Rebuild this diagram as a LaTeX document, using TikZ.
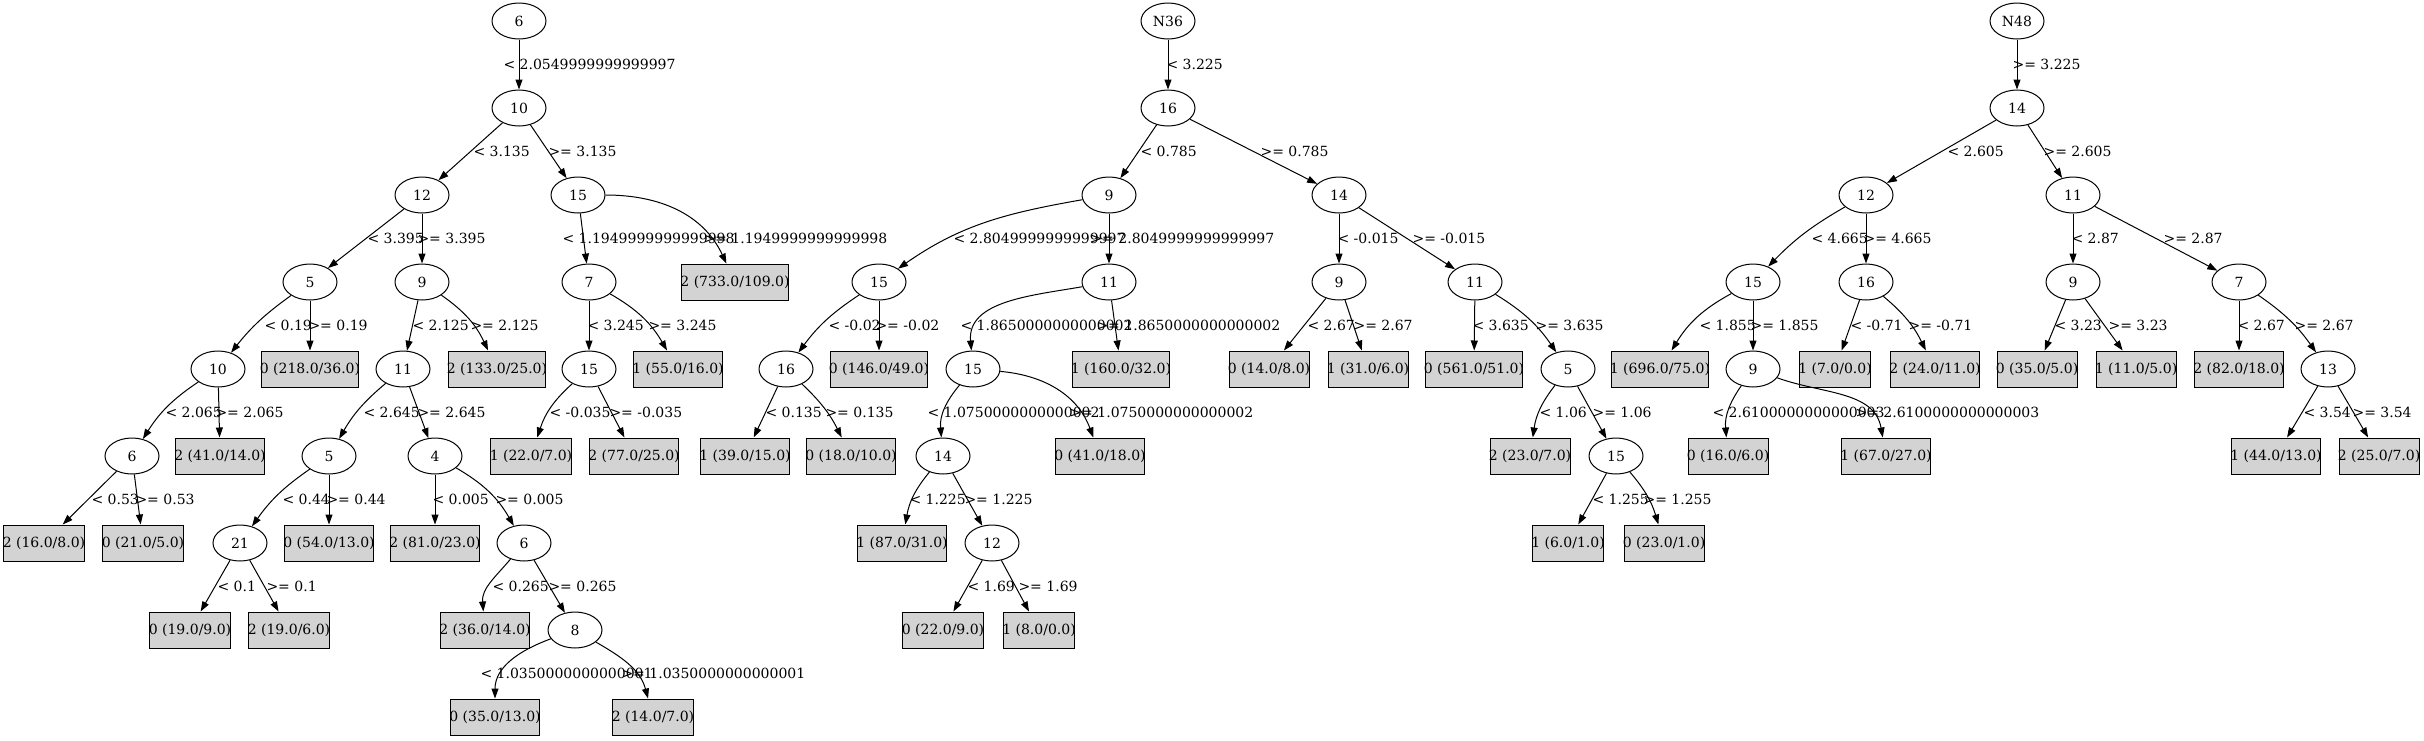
\documentclass[tikz,border=0pt]{standalone}
\usepackage{fontspec}
\setmainfont{DejaVu Serif}
\usetikzlibrary{arrows.meta, shapes.geometric}
\definecolor{leafgray}{HTML}{D3D3D3}

\begin{document}
\begin{tikzpicture}[x=1pt, y=1pt, font=\fontsize{14pt}{17pt}\selectfont,
    cond/.style={draw, line width=1pt, ellipse, minimum width=54pt, minimum height=36pt, inner sep=0pt},
    leaf/.style={draw, line width=1pt, fill=leafgray, minimum height=36pt, inner xsep=-1.2pt, inner ysep=0pt},
    branch/.style={-{Triangle[length=10pt, width=7pt]}, line width=1pt},
    thr/.style={anchor=west, inner sep=0pt}]
  \useasboundingbox (0,0) rectangle (2424,-740);

  % tree under root 6
  \node[cond] (aR) at (519,-21) {6};
  \node[cond] (a10) at (519,-108) {10};
  \node[cond] (a12) at (422,-195) {12};
  \node[cond] (a15) at (578,-195) {15};
  \node[cond] (a5) at (310,-282) {5};
  \node[cond] (a9) at (422,-282) {9};
  \node[cond] (a7) at (589,-282) {7};
  \node[leaf] (aL733) at (735,-282) {2 (733.0/109.0)};
  \node[cond] (a10b) at (218,-369) {10};
  \node[leaf] (aL218) at (310,-369) {0 (218.0/36.0)};
  \node[cond] (a11) at (403,-369) {11};
  \node[leaf] (aL133) at (497,-369) {2 (133.0/25.0)};
  \node[cond] (a15b) at (589,-369) {15};
  \node[leaf] (aL55) at (678,-369) {1 (55.0/16.0)};
  \node[cond] (a6) at (132,-456) {6};
  \node[leaf] (aL41) at (220,-456) {2 (41.0/14.0)};
  \node[cond] (a5b) at (329,-456) {5};
  \node[cond] (a4) at (435,-456) {4};
  \node[leaf] (aL22) at (531,-456) {1 (22.0/7.0)};
  \node[leaf] (aL77) at (634,-456) {2 (77.0/25.0)};
  \node[leaf] (aL16) at (44,-543) {2 (16.0/8.0)};
  \node[leaf] (aL21) at (143,-543) {0 (21.0/5.0)};
  \node[cond] (a21) at (240,-543) {21};
  \node[leaf] (aL54) at (329,-543) {0 (54.0/13.0)};
  \node[leaf] (aL81) at (435,-543) {2 (81.0/23.0)};
  \node[cond] (a6b) at (524,-543) {6};
  \node[leaf] (aL19a) at (190,-630) {0 (19.0/9.0)};
  \node[leaf] (aL19b) at (289,-630) {2 (19.0/6.0)};
  \node[leaf] (aL36) at (485,-630) {2 (36.0/14.0)};
  \node[cond] (a8) at (575,-630) {8};
  \node[leaf] (aL35) at (495,-717) {0 (35.0/13.0)};
  \node[leaf] (aL14) at (653,-717) {2 (14.0/7.0)};

  \draw[branch] (aR) -- (a10) node[thr, at={(503,-64.5)}] {< 2.0549999999999997};
  \draw[branch] (a10) -- (a12) node[thr, at={(473,-151.5)}] {< 3.135};
  \draw[branch] (a10) -- (a15) node[thr, at={(548,-151.5)}] {>= 3.135};
  \draw[branch] (a12) -- (a5) node[thr, at={(367,-238.5)}] {< 3.395};
  \draw[branch] (a12) -- (a9) node[thr, at={(417,-238.5)}] {>= 3.395};
  \draw[branch] (a15) -- (a7) node[thr, at={(562,-238.5)}] {< 1.1949999999999998};
  \draw[branch] (a15) to[out=0, in=115] (aL733) node[thr, at={(703,-238.5)}] {>= 1.1949999999999998};
  \draw[branch] (a5) to[bend right=8] (a10b) node[thr, at={(264,-325.5)}] {< 0.19};
  \draw[branch] (a5) -- (aL218) node[thr, at={(308,-325.5)}] {>= 0.19};
  \draw[branch] (a9) -- (a11) node[thr, at={(412,-325.5)}] {< 2.125};
  \draw[branch] (a9) to[bend left=15] (aL133) node[thr, at={(470,-325.5)}] {>= 2.125};
  \draw[branch] (a7) -- (a15b) node[thr, at={(587,-325.5)}] {< 3.245};
  \draw[branch] (a7) to[bend left=15] (aL55) node[thr, at={(648,-325.5)}] {>= 3.245};
  \draw[branch] (a10b) to[bend right=12] (a6) node[thr, at={(165,-412.5)}] {< 2.065};
  \draw[branch] (a10b) -- (aL41) node[thr, at={(215,-412.5)}] {>= 2.065};
  \draw[branch] (a11) to[bend right=10] (a5b) node[thr, at={(363,-412.5)}] {< 2.645};
  \draw[branch] (a11) -- (a4) node[thr, at={(417,-412.5)}] {>= 2.645};
  \draw[branch] (a15b) to[bend right=15] (aL22) node[thr, at={(549,-412.5)}] {< -0.035};
  \draw[branch] (a15b) -- (aL77) node[thr, at={(609,-412.5)}] {>= -0.035};
  \draw[branch] (a6) -- (aL16) node[thr, at={(91,-499.5)}] {< 0.53};
  \draw[branch] (a6) -- (aL21) node[thr, at={(135,-499.5)}] {>= 0.53};
  \draw[branch] (a5b) to[bend right=10] (a21) node[thr, at={(282,-499.5)}] {< 0.44};
  \draw[branch] (a5b) -- (aL54) node[thr, at={(326,-499.5)}] {>= 0.44};
  \draw[branch] (a4) -- (aL81) node[thr, at={(432,-499.5)}] {< 0.005};
  \draw[branch] (a4) to[bend left=15] (a6b) node[thr, at={(495,-499.5)}] {>= 0.005};
  \draw[branch] (a21) -- (aL19a) node[thr, at={(217,-586.5)}] {< 0.1};
  \draw[branch] (a21) -- (aL19b) node[thr, at={(266,-586.5)}] {>= 0.1};
  \draw[branch] (a6b) to[out=230, in=95] (aL36) node[thr, at={(492,-586.5)}] {< 0.265};
  \draw[branch] (a6b) -- (a8) node[thr, at={(548,-586.5)}] {>= 0.265};
  \draw[branch] (a8) to[out=200, in=90] (aL35) node[thr, at={(480,-673.5)}] {< 1.0350000000000001};
  \draw[branch] (a8) to[out=-30, in=105] (aL14) node[thr, at={(621,-673.5)}] {>= 1.0350000000000001};

  % tree under root N36
  \node[cond] (bR) at (1168,-21) {N36};
  \node[cond] (b16) at (1168,-108) {16};
  \node[cond] (b9) at (1109,-195) {9};
  \node[cond] (b14) at (1339,-195) {14};
  \node[cond] (b15) at (879,-282) {15};
  \node[cond] (b11) at (1109,-282) {11};
  \node[cond] (b9b) at (1339,-282) {9};
  \node[cond] (b11b) at (1475,-282) {11};
  \node[cond] (b16b) at (786,-369) {16};
  \node[leaf] (bL146) at (879,-369) {0 (146.0/49.0)};
  \node[cond] (b15b) at (973,-369) {15};
  \node[leaf] (bL160) at (1121,-369) {1 (160.0/32.0)};
  \node[leaf] (bL14) at (1269,-369) {0 (14.0/8.0)};
  \node[leaf] (bL31) at (1368,-369) {1 (31.0/6.0)};
  \node[leaf] (bL561) at (1474,-369) {0 (561.0/51.0)};
  \node[cond] (b5) at (1568,-369) {5};
  \node[leaf] (bL39) at (745,-456) {1 (39.0/15.0)};
  \node[leaf] (bL18) at (851,-456) {0 (18.0/10.0)};
  \node[cond] (b14b) at (943,-456) {14};
  \node[leaf] (bL41) at (1100,-456) {0 (41.0/18.0)};
  \node[leaf] (bL23) at (1530,-456) {2 (23.0/7.0)};
  \node[cond] (b15c) at (1616,-456) {15};
  \node[leaf] (bL87) at (902,-543) {1 (87.0/31.0)};
  \node[cond] (b12) at (992,-543) {12};
  \node[leaf] (bL6) at (1568,-543) {1 (6.0/1.0)};
  \node[leaf] (bL23b) at (1664,-543) {0 (23.0/1.0)};
  \node[leaf] (bL22) at (943,-630) {0 (22.0/9.0)};
  \node[leaf] (bL8) at (1039,-630) {1 (8.0/0.0)};

  \draw[branch] (bR) -- (b16) node[thr, at={(1166,-64.5)}] {< 3.225};
  \draw[branch] (b16) -- (b9) node[thr, at={(1140,-151.5)}] {< 0.785};
  \draw[branch] (b16) -- (b14) node[thr, at={(1260,-151.5)}] {>= 0.785};
  \draw[branch] (b9) to[out=190, in=35] (b15) node[thr, at={(953,-238.5)}] {< 2.8049999999999997};
  \draw[branch] (b9) -- (b11) node[thr, at={(1090,-238.5)}] {>= 2.8049999999999997};
  \draw[branch] (b14) -- (b9b) node[thr, at={(1337,-238.5)}] {< -0.015};
  \draw[branch] (b14) -- (b11b) node[thr, at={(1412,-238.5)}] {>= -0.015};
  \draw[branch] (b15) to[bend right=10] (b16b) node[thr, at={(828,-325.5)}] {< -0.02};
  \draw[branch] (b15) -- (bL146) node[thr, at={(875,-325.5)}] {>= -0.02};
  \draw[branch] (b11) to[out=190, in=95] (b15b) node[thr, at={(960,-325.5)}] {< 1.8650000000000002};
  \draw[branch] (b11) -- (bL160) node[thr, at={(1096,-325.5)}] {>= 1.8650000000000002};
  \draw[branch] (b9b) -- (bL14) node[thr, at={(1307,-325.5)}] {< 2.67};
  \draw[branch] (b9b) -- (bL31) node[thr, at={(1353,-325.5)}] {>= 2.67};
  \draw[branch] (b11b) -- (bL561) node[thr, at={(1472,-325.5)}] {< 3.635};
  \draw[branch] (b11b) to[bend left=12] (b5) node[thr, at={(1535,-325.5)}] {>= 3.635};
  \draw[branch] (b16b) -- (bL39) node[thr, at={(765,-412.5)}] {< 0.135};
  \draw[branch] (b16b) to[bend left=10] (bL18) node[thr, at={(825,-412.5)}] {>= 0.135};
  \draw[branch] (b15b) to[out=230, in=95] (b14b) node[thr, at={(927,-412.5)}] {< 1.0750000000000002};
  \draw[branch] (b15b) to[out=-5, in=110] (bL41) node[thr, at={(1069,-412.5)}] {>= 1.0750000000000002};
  \draw[branch] (b5) to[bend right=15] (bL23) node[thr, at={(1539,-412.5)}] {< 1.06};
  \draw[branch] (b5) -- (b15c) node[thr, at={(1592,-412.5)}] {>= 1.06};
  \draw[branch] (b14b) to[bend right=15] (bL87) node[thr, at={(909,-499.5)}] {< 1.225};
  \draw[branch] (b14b) -- (b12) node[thr, at={(964,-499.5)}] {>= 1.225};
  \draw[branch] (b15c) -- (bL6) node[thr, at={(1592,-499.5)}] {< 1.255};
  \draw[branch] (b15c) to[bend left=12] (bL23b) node[thr, at={(1643,-499.5)}] {>= 1.255};
  \draw[branch] (b12) -- (bL22) node[thr, at={(967,-586.5)}] {< 1.69};
  \draw[branch] (b12) -- (bL8) node[thr, at={(1018,-586.5)}] {>= 1.69};

  % tree under root N48
  \node[cond] (cR) at (2017,-21) {N48};
  \node[cond] (c14) at (2017,-108) {14};
  \node[cond] (c12) at (1866,-195) {12};
  \node[cond] (c11) at (2073,-195) {11};
  \node[cond] (c15) at (1753,-282) {15};
  \node[cond] (c16) at (1866,-282) {16};
  \node[cond] (c9) at (2073,-282) {9};
  \node[cond] (c7) at (2239,-282) {7};
  \node[leaf] (cL696) at (1660,-369) {1 (696.0/75.0)};
  \node[cond] (c9b) at (1753,-369) {9};
  \node[leaf] (cL7) at (1835,-369) {1 (7.0/0.0)};
  \node[leaf] (cL24) at (1935,-369) {2 (24.0/11.0)};
  \node[leaf] (cL35) at (2037,-369) {0 (35.0/5.0)};
  \node[leaf] (cL11) at (2136,-369) {1 (11.0/5.0)};
  \node[leaf] (cL82) at (2239,-369) {2 (82.0/18.0)};
  \node[cond] (c13) at (2328,-369) {13};
  \node[leaf] (cL16) at (1728,-456) {0 (16.0/6.0)};
  \node[leaf] (cL67) at (1886,-456) {1 (67.0/27.0)};
  \node[leaf] (cL44) at (2276,-456) {1 (44.0/13.0)};
  \node[leaf] (cL25) at (2379,-456) {2 (25.0/7.0)};

  \draw[branch] (cR) -- (c14) node[thr, at={(2012,-64.5)}] {>= 3.225};
  \draw[branch] (c14) -- (c12) node[thr, at={(1947,-151.5)}] {< 2.605};
  \draw[branch] (c14) -- (c11) node[thr, at={(2043,-151.5)}] {>= 2.605};
  \draw[branch] (c12) to[bend right=8] (c15) node[thr, at={(1811,-238.5)}] {< 4.665};
  \draw[branch] (c12) -- (c16) node[thr, at={(1863,-238.5)}] {>= 4.665};
  \draw[branch] (c11) -- (c9) node[thr, at={(2071,-238.5)}] {< 2.87};
  \draw[branch] (c11) -- (c7) node[thr, at={(2163,-238.5)}] {>= 2.87};
  \draw[branch] (c15) to[bend right=15] (cL696) node[thr, at={(1699,-325.5)}] {< 1.855};
  \draw[branch] (c15) -- (c9b) node[thr, at={(1750,-325.5)}] {>= 1.855};
  \draw[branch] (c16) -- (cL7) node[thr, at={(1850,-325.5)}] {< -0.71};
  \draw[branch] (c16) to[bend left=12] (cL24) node[thr, at={(1908,-325.5)}] {>= -0.71};
  \draw[branch] (c9) -- (cL35) node[thr, at={(2054,-325.5)}] {< 3.23};
  \draw[branch] (c9) -- (cL11) node[thr, at={(2108,-325.5)}] {>= 3.23};
  \draw[branch] (c7) -- (cL82) node[thr, at={(2237,-325.5)}] {< 2.67};
  \draw[branch] (c7) to[bend left=10] (c13) node[thr, at={(2294,-325.5)}] {>= 2.67};
  \draw[branch] (c9b) to[out=235, in=95] (cL16) node[thr, at={(1712,-412.5)}] {< 2.6100000000000003};
  \draw[branch] (c9b) to[out=-20, in=100] (cL67) node[thr, at={(1855,-412.5)}] {>= 2.6100000000000003};
  \draw[branch] (c13) -- (cL44) node[thr, at={(2303,-412.5)}] {< 3.54};
  \draw[branch] (c13) -- (cL25) node[thr, at={(2352,-412.5)}] {>= 3.54};
\end{tikzpicture}
\end{document}
